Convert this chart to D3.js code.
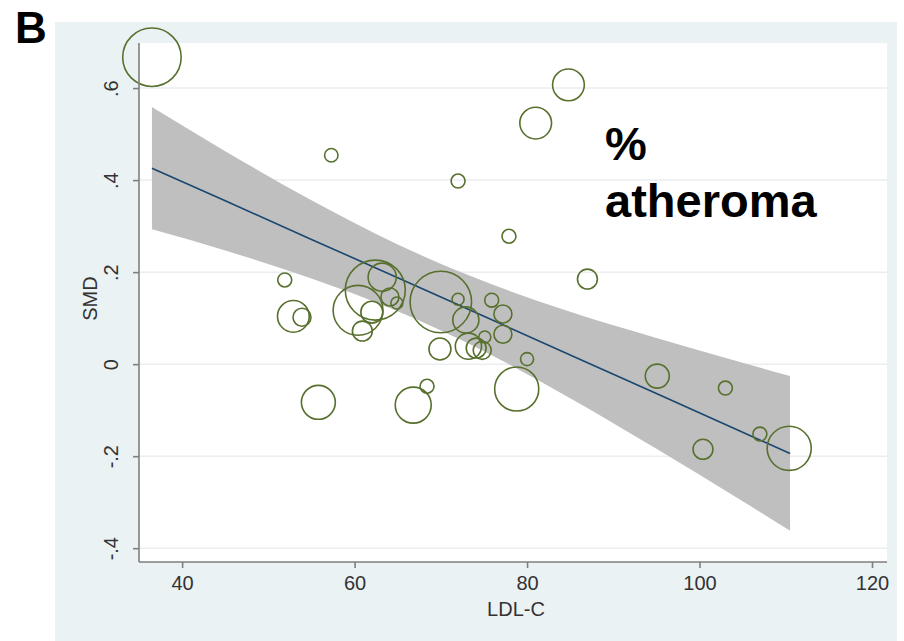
<!DOCTYPE html>
<html>
<head>
<meta charset="utf-8">
<script src="https://cdn.jsdelivr.net/npm/d3@7"></script>
<style>
  body { margin: 0; background: #fff; }
  text { font-family: Arial, "Liberation Sans", sans-serif; }
</style>
</head>
<body>
<svg width="904" height="641"></svg>
<script>
// study-level points (LDL-C achieved vs SMD of % atheroma), bubble size = study weight
var ldl = [36.5, 51.9, 52.9, 53.9, 55.8, 57.3, 62.4, 60.4, 63.2, 62.0, 60.9, 64.1, 64.9, 66.8, 68.4,
    69.9, 70.0, 72.0, 72.9, 72.0, 73.2, 74.1, 74.8, 75.1, 75.9, 77.2, 77.2, 77.9, 78.8, 80.0,
    81.0, 84.8, 87.0, 95.1, 100.4, 103.0, 107.0, 110.4];
var smd = [0.667, 0.183, 0.104, 0.102, -0.083, 0.454, 0.161, 0.117, 0.189, 0.113, 0.072, 0.146, 0.133, -0.089, -0.048,
    0.033, 0.135, 0.141, 0.096, 0.398, 0.039, 0.035, 0.030, 0.059, 0.139, 0.109, 0.065, 0.278, -0.054, 0.011,
    0.524, 0.607, 0.185, -0.026, -0.185, -0.052, -0.152, -0.183];
var weight = [95, 5.4, 28, 9, 32, 5, 100, 69, 22, 13.4, 11, 9, 4, 36, 5.4,
    13.4, 105, 4, 19, 5.4, 19, 11, 9, 4, 5.4, 9, 9, 5.4, 54, 4.7,
    28, 28, 11, 16, 11, 5.4, 5.4, 54];

// fitted line and 95% CI
var fitX  = [36.5, 45, 55, 65, 75, 85, 95, 105, 110.5];
var fitY  = [0.426, 0.355, 0.271, 0.188, 0.104, 0.020, -0.064, -0.148, -0.194];
var ciLo  = [0.293, 0.247, 0.186, 0.115, 0.028, -0.074, -0.184, -0.298, -0.362];
var ciHi  = [0.559, 0.463, 0.356, 0.260, 0.180, 0.114, 0.057, 0.003, -0.026];

var xTicks = [40, 60, 80, 100, 120];
var yTicks = [-0.4, -0.2, 0, 0.2, 0.4, 0.6];

var svg = d3.select('svg');

var plot = {l: 139, r: 887, t: 43, b: 562};

var x = d3.scaleLinear().domain([35.0, 121.74]).range([plot.l, plot.r]);
var y = d3.scaleLinear().domain([-0.43, 0.698]).range([plot.b, plot.t]);
var rad = d3.scaleSqrt().domain([0, 100]).range([0, 30]);

// graph region (light bluish gray) and plot region (white)
svg.append('rect')
    .attr('x', 55).attr('y', 22)
    .attr('width', 842).attr('height', 619)
    .attr('fill', '#eaf2f3');
svg.append('rect')
    .attr('x', plot.l).attr('y', plot.t)
    .attr('width', plot.r - plot.l).attr('height', plot.b - plot.t)
    .attr('fill', '#fff');

// grid lines
svg.append('g').selectAll('line')
    .data(yTicks)
    .enter().append('line')
    .attr('x1', plot.l).attr('x2', plot.r)
    .attr('y1', function(d) { return y(d); })
    .attr('y2', function(d) { return y(d); })
    .attr('stroke', '#eaeef0')
    .attr('stroke-width', 1.5);

// confidence band
var fit = fitX.map(function(d, i) {
    return {x: d, y: fitY[i], lo: ciLo[i], hi: ciHi[i]};
});
svg.append('path')
    .datum(fit)
    .attr('fill', '#bfbfbf')
    .attr('d', d3.area()
        .x(function(d) { return x(d.x); })
        .y0(function(d) { return y(d.lo); })
        .y1(function(d) { return y(d.hi); })
        .curve(d3.curveMonotoneX));

// fitted line
svg.append('path')
    .datum(fit)
    .attr('fill', 'none')
    .attr('stroke', '#1a476f')
    .attr('stroke-width', 1.6)
    .attr('d', d3.line()
        .x(function(d) { return x(d.x); })
        .y(function(d) { return y(d.y); }));

// bubbles
svg.append('g').selectAll('circle')
    .data(ldl)
    .enter().append('circle')
    .attr('cx', function(d) { return x(d); })
    .attr('cy', function(d, i) { return y(smd[i]); })
    .attr('r', function(d, i) { return rad(weight[i]); })
    .attr('fill', 'none')
    .attr('stroke', '#58702e')
    .attr('stroke-width', 1.6);

// axes
var xAxis = d3.axisBottom(x).tickValues(xTicks).tickSize(6).tickSizeOuter(0).tickPadding(8);
var gx = svg.append('g')
    .attr('transform', 'translate(0,' + plot.b + ')')
    .call(xAxis);
gx.selectAll('text').style('font-size', '20px').attr('fill', '#333');

// Stata style labels: .6, -.2
var fmt = function(d) {
    if (d === 0) return '0';
    return (d < 0 ? '-' : '') + String(Math.abs(d)).replace(/^0/, '');
};
var yAxis = d3.axisLeft(y).tickValues(yTicks).tickSize(6).tickSizeOuter(0).tickFormat(fmt);
var gy = svg.append('g')
    .attr('transform', 'translate(' + plot.l + ',0)')
    .call(yAxis);
gy.selectAll('text')
    .attr('x', 0).attr('y', -21).attr('dy', 0)
    .attr('transform', 'rotate(-90)')
    .attr('text-anchor', 'middle')
    .style('font-size', '20px')
    .attr('fill', '#333');

svg.selectAll('.domain, .tick line').attr('stroke', '#7f7f7f').attr('stroke-width', 1.6);
svg.selectAll('.tick text').attr('font-family', 'Arial, "Liberation Sans", sans-serif');
// axis lines span the whole plot region
gy.select('.domain').attr('d', 'M0,' + plot.t + 'V' + plot.b);
gx.select('.domain').attr('d', 'M' + plot.l + ',0H' + plot.r);

// axis titles
svg.append('text')
    .attr('x', (plot.l + plot.r) / 2 + 3).attr('y', 616)
    .attr('text-anchor', 'middle')
    .style('font-size', '20px')
    .attr('fill', '#333')
    .text('LDL-C');
svg.append('text')
    .attr('transform', 'translate(97,' + ((plot.t + plot.b) / 2 - 4) + ') rotate(-90)')
    .attr('text-anchor', 'middle')
    .style('font-size', '20px')
    .attr('fill', '#333')
    .text('SMD');

// panel letter and annotation
svg.append('text')
    .attr('x', 15).attr('y', 43)
    .style('font-size', '44px').style('font-weight', 'bold')
    .text('B');
svg.append('text')
    .attr('x', 605).attr('y', 160)
    .style('font-size', '47px').style('font-weight', 'bold')
    .text('%');
svg.append('text')
    .attr('x', 605).attr('y', 217)
    .style('font-size', '47px').style('font-weight', 'bold')
    .text('atheroma');
</script>
</body>
</html>
